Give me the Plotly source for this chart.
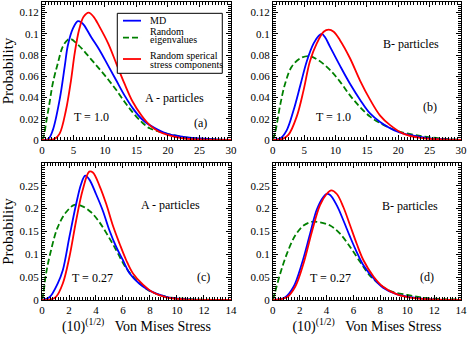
import plotly.graph_objects as go

# panel (a): A particles, T = 1.0
a_md_x = [0, 1, 1.7, 2.8, 3.6, 4.1, 4.9, 5.7, 6.2, 6.7, 7.8, 9.1, 10.5, 11.8, 13.1, 14.4, 15.8, 17.1, 19.8, 22.4, 25, 30]
a_md_y = [0, 0.001, 0.009, 0.038, 0.069, 0.089, 0.105, 0.112, 0.111, 0.108, 0.097, 0.085, 0.07, 0.056, 0.042, 0.03, 0.02, 0.014, 0.006, 0.003, 0.0015, 0]
a_eig_x = [0, 0.3, 0.64, 1.17, 1.7, 2.5, 3.3, 4.1, 4.6, 5.5, 6.5, 7.8, 9.1, 10.5, 11.8, 13.1, 14.4, 15.8, 17.1, 19.8, 22.4, 25, 30]
a_eig_y = [0, 0.004, 0.016, 0.034, 0.053, 0.072, 0.088, 0.0945, 0.095, 0.091, 0.085, 0.076, 0.067, 0.057, 0.047, 0.036, 0.026, 0.017, 0.011, 0.006, 0.003, 0.0012, 0]
a_sph_x = [0, 2, 2.8, 3.8, 4.6, 5.2, 5.9, 6.6, 7.4, 8.2, 9.1, 10.5, 11.8, 13.1, 14.4, 15.8, 17.1, 18.5, 19.8, 22.4, 25, 30]
a_sph_y = [0, 0.001, 0.006, 0.028, 0.056, 0.082, 0.104, 0.116, 0.12, 0.116, 0.107, 0.091, 0.072, 0.053, 0.036, 0.023, 0.014, 0.008, 0.005, 0.0015, 0.0005, 0]

# panel (b): B particles, T = 1.0
b_md_x = [0, 1.2, 2.2, 3.3, 4.4, 5.4, 6.5, 7.3, 7.8, 8.3, 9.1, 10.7, 12.3, 13.9, 15.5, 17.1, 19.8, 22.4, 25, 30]
b_md_y = [0, 0.0015, 0.009, 0.028, 0.052, 0.074, 0.091, 0.098, 0.1, 0.097, 0.088, 0.07, 0.053, 0.038, 0.025, 0.017, 0.008, 0.004, 0.0015, 0]
b_eig_x = [0, 0.4, 1.2, 2.0, 3.0, 4.4, 5.8, 7.3, 9.1, 10.7, 12.3, 13.9, 15.5, 17.1, 19.8, 22.4, 25, 30]
b_eig_y = [0, 0.008, 0.034, 0.054, 0.069, 0.077, 0.079, 0.075, 0.066, 0.055, 0.042, 0.031, 0.022, 0.016, 0.0085, 0.005, 0.0025, 0]
b_sph_x = [0, 1.5, 2.5, 3.8, 4.9, 5.9, 7.0, 8.1, 8.9, 9.7, 10.7, 12.3, 13.9, 15.5, 17.1, 18.7, 20.8, 23.5, 30]
b_sph_y = [0, 0.0008, 0.005, 0.022, 0.047, 0.074, 0.091, 0.102, 0.104, 0.102, 0.094, 0.077, 0.056, 0.038, 0.023, 0.014, 0.006, 0.002, 0]

# panel (c): A particles, T = 0.27
c_md_x = [0, 0.55, 1.16, 1.54, 2.03, 2.53, 2.9, 3.2, 3.5, 4.0, 4.5, 5.0, 5.5, 6.0, 6.5, 7.2, 8.0, 9.2, 10.5, 14]
c_md_y = [0, 0.006, 0.036, 0.065, 0.138, 0.21, 0.254, 0.272, 0.264, 0.232, 0.196, 0.152, 0.116, 0.087, 0.058, 0.036, 0.02, 0.007, 0.002, 0]
c_eig_x = [0, 0.1, 0.3, 0.67, 1.16, 1.78, 2.4, 3.0, 3.64, 4.26, 4.88, 5.5, 6.1, 6.74, 7.36, 7.98, 9.2, 10.5, 11.7, 14]
c_eig_y = [0, 0.014, 0.058, 0.109, 0.159, 0.192, 0.208, 0.205, 0.192, 0.17, 0.141, 0.109, 0.076, 0.051, 0.033, 0.02, 0.007, 0.003, 0.001, 0]
c_sph_x = [0, 0.6, 1.04, 1.54, 2.03, 2.53, 3.0, 3.5, 3.77, 4.26, 4.76, 5.25, 5.75, 6.24, 6.74, 7.5, 8.2, 9.2, 10.5, 14]
c_sph_y = [0, 0.001, 0.007, 0.036, 0.094, 0.174, 0.239, 0.281, 0.279, 0.25, 0.21, 0.163, 0.123, 0.087, 0.058, 0.033, 0.017, 0.006, 0.0015, 0]

# panel (d): B particles, T = 0.27
d_md_x = [0, 0.92, 1.54, 2.16, 2.77, 3.27, 3.77, 4.0, 4.26, 4.76, 5.25, 5.75, 6.24, 6.74, 7.5, 8.2, 9.2, 10.5, 11.7, 14]
d_md_y = [0, 0.006, 0.029, 0.08, 0.145, 0.198, 0.226, 0.232, 0.23, 0.207, 0.174, 0.138, 0.105, 0.076, 0.047, 0.027, 0.013, 0.005, 0.0015, 0]
d_eig_x = [0, 0.17, 0.55, 1.04, 1.66, 2.28, 2.9, 3.5, 4.26, 5.0, 5.75, 6.5, 7.2, 8.0, 8.7, 10.0, 11.2, 13, 14]
d_eig_y = [0, 0.018, 0.058, 0.101, 0.141, 0.163, 0.171, 0.17, 0.163, 0.145, 0.116, 0.083, 0.054, 0.033, 0.02, 0.011, 0.005, 0.0015, 0.001]
d_sph_x = [0, 1.04, 1.66, 2.28, 2.9, 3.5, 4.0, 4.34, 4.76, 5.25, 5.75, 6.24, 6.74, 7.5, 8.2, 9.2, 10.5, 11.7, 14]
d_sph_y = [0, 0.006, 0.029, 0.08, 0.149, 0.207, 0.232, 0.24, 0.232, 0.203, 0.163, 0.123, 0.087, 0.051, 0.029, 0.013, 0.004, 0.0015, 0]

top_yticks = [0, 0.02, 0.04, 0.06, 0.08, 0.1, 0.12]
top_ytext = ["0", "0.02", "0.04", "0.06", "0.08", "0.1", "0.12"]
bot_yticks = [0, 0.05, 0.1, 0.15, 0.2, 0.25]
bot_ytext = ["0", "0.05", "0.1", "0.15", "0.2", "0.25"]

BLUE, GREEN, RED = "#0000ff", "#008000", "#ff0000"
FONT = "Liberation Serif, Times New Roman, DejaVu Serif, serif"
GDASH = "6px,3px"

panels = [
    ("x", "y", (a_md_x, a_md_y), (a_eig_x, a_eig_y), (a_sph_x, a_sph_y)),
    ("x2", "y2", (b_md_x, b_md_y), (b_eig_x, b_eig_y), (b_sph_x, b_sph_y)),
    ("x3", "y3", (c_md_x, c_md_y), (c_eig_x, c_eig_y), (c_sph_x, c_sph_y)),
    ("x4", "y4", (d_md_x, d_md_y), (d_eig_x, d_eig_y), (d_sph_x, d_sph_y)),
]

fig = go.Figure()
for xa, ya, md, eig, sph in panels:
    fig.add_trace(go.Scatter(x=eig[0], y=eig[1], xaxis=xa, yaxis=ya, mode="lines",
                             line=dict(color=GREEN, width=1.8, dash=GDASH, shape="spline")))
    fig.add_trace(go.Scatter(x=md[0], y=md[1], xaxis=xa, yaxis=ya, mode="lines",
                             line=dict(color=BLUE, width=1.8, shape="spline")))
    fig.add_trace(go.Scatter(x=sph[0], y=sph[1], xaxis=xa, yaxis=ya, mode="lines",
                             line=dict(color=RED, width=1.8, shape="spline")))


def ax(domain, rng, dtick, minor):
    return dict(domain=domain, range=rng, dtick=dtick, tick0=0, ticks="inside", ticklen=5,
                tickwidth=1, tickcolor="black", showline=True, linecolor="black", linewidth=1,
                mirror="ticks", showgrid=False, zeroline=False,
                tickfont=dict(family=FONT, size=11, color="black"),
                minor=dict(dtick=minor, ticks="inside", ticklen=3, tickcolor="black", showgrid=False))


xtitle = dict(text="(10)<sup>(1/2)</sup>&nbsp;&nbsp;&nbsp;Von Mises Stress",
              font=dict(family=FONT, size=14, color="black"), standoff=4)
ytitle = dict(text="Probability", font=dict(family=FONT, size=15, color="black"), standoff=2)

fig.update_layout(
    width=471, height=338,
    margin=dict(l=42, r=10, t=2, b=38, autoexpand=False),
    paper_bgcolor="white", plot_bgcolor="white",
    font=dict(family=FONT, color="black"),
    showlegend=False,
    xaxis=ax([0, 0.451], [0, 30], 5, 0.5),
    xaxis2=dict(ax([0.551, 1], [0, 30], 5, 0.5), anchor="y2"),
    xaxis3=dict(ax([0, 0.451], [0, 14], 2, 0.2), anchor="y3", title=xtitle),
    xaxis4=dict(ax([0.551, 1], [0, 14], 2, 0.2), anchor="y4", title=xtitle),
    yaxis=dict(ax([0.537, 1], [0, 0.13], 0.02, 0.002), anchor="x", title=ytitle,
               tickvals=top_yticks, ticktext=top_ytext),
    yaxis2=dict(ax([0.537, 1], [0, 0.13], 0.02, 0.002), anchor="x2",
                tickvals=top_yticks, ticktext=top_ytext),
    yaxis3=dict(ax([0, 0.46], [0, 0.3], 0.05, 0.005), anchor="x3", title=ytitle,
                tickvals=bot_yticks, ticktext=bot_ytext),
    yaxis4=dict(ax([0, 0.46], [0, 0.3], 0.05, 0.005), anchor="x4",
                tickvals=bot_yticks, ticktext=bot_ytext),
)

# legend box drawn in panel (a), grace style
fig.add_shape(type="rect", xref="paper", yref="paper", x0=0.1797, x1=0.4303, y0=0.7607, y1=0.962,
              line=dict(color="black", width=1), fillcolor="white", layer="above")
leg_lines = [(0.9373, BLUE, "solid"), (0.8802, GREEN, GDASH), (0.8087, RED, "solid")]
for y, c, dash in leg_lines:
    fig.add_shape(type="line", xref="paper", yref="paper", x0=0.1933, x1=0.2363, y0=y, y1=y,
                  line=dict(color=c, width=1.8, dash=dash), layer="above")
leg_text = [(0.9373, "MD"), (0.9003, "Random"), (0.8725, "eigenvalues"),
            (0.8221, "Random sperical"), (0.7886, "stress components")]
for y, t in leg_text:
    fig.add_annotation(x=0.2561, y=y, xref="paper", yref="paper", text=t, showarrow=False,
                       xanchor="left", yanchor="middle", borderpad=0,
                       font=dict(family=FONT, size=10, color="black"))

notes = [
    ("x", "y", 21, 0.04, "A - particles"),
    ("x", "y", 7.9, 0.0216, "T = 1.0"),
    ("x", "y", 25.2, 0.016, "(a)"),
    ("x2", "y2", 22, 0.09, "B- particles"),
    ("x2", "y2", 9.6, 0.0216, "T = 1.0"),
    ("x2", "y2", 25, 0.031, "(b)"),
    ("x3", "y3", 9.5, 0.208, "A - particles"),
    ("x3", "y3", 3.74, 0.049, "T = 0.27"),
    ("x3", "y3", 12.0, 0.05, "(c)"),
    ("x4", "y4", 10.2, 0.206, "B- particles"),
    ("x4", "y4", 4.3, 0.049, "T = 0.27"),
    ("x4", "y4", 11.5, 0.05, "(d)"),
]
for xr, yr, x, y, t in notes:
    fig.add_annotation(x=x, y=y, xref=xr, yref=yr, text=t, showarrow=False,
                       font=dict(family=FONT, size=12, color="black"))

fig.write_html("out.html", config={"displayModeBar": False},
               post_script="document.body.style.margin='0px';")
